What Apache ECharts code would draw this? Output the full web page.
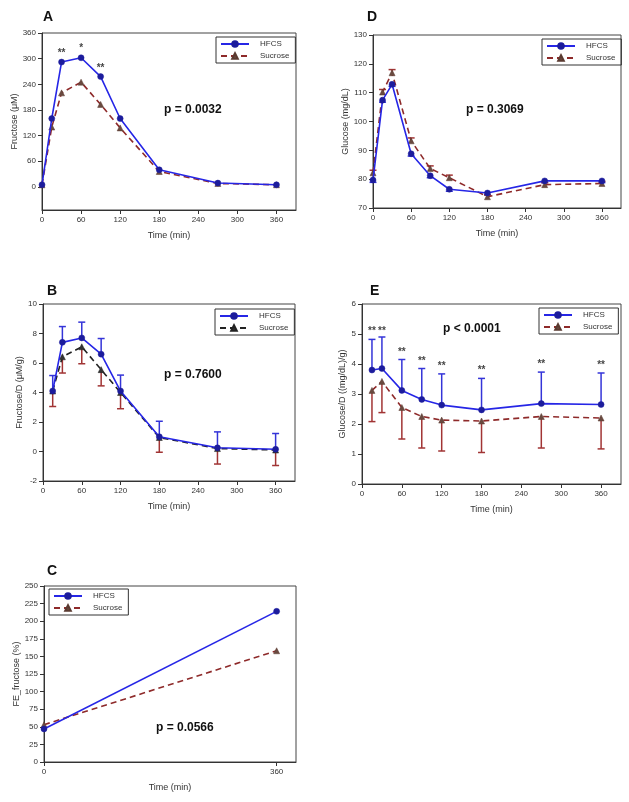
<!DOCTYPE html>
<html lang="en">

<head>
  <meta charset="UTF-8">
  <title>HFCS vs Sucrose</title>
  <style>
    html, body {
      margin: 0;
      width: 100%;
      height: 100%;
      background: #fff;
    }

    .chart {
      width: 629px;
      height: 802px;
    }
  </style>
</head>

<body>
  <div id="chart" class="chart"></div>

  <script src="https://cdn.jsdelivr.net/npm/echarts@6/dist/echarts.min.js"></script>
  <script>
    // time points (min)
    var times = [0, 15, 30, 60, 90, 120, 180, 270, 360];
    var timesPerDose = [15, 30, 60, 90, 120, 180, 270, 360];
    var timesFe = [0, 360];
    var timeTicks = [0, 60, 120, 180, 240, 300, 360];

    // A - fructose (uM)
    var fructoseHfcs = [5, 160, 292, 302, 258, 160, 40, 9, 5];
    var fructoseSucrose = [5, 140, 220, 245, 193, 138, 36, 8, 5];
    var fructoseStarTimes = [30, 60, 90];
    var fructoseStarLevels = [313, 324, 278];
    var fructoseStarText = ['**', '*', '**'];

    // B - fructose / dose (uM/g)
    var fructoseDHfcs = [4.1, 7.4, 7.7, 6.6, 4.1, 1.0, 0.25, 0.15];
    var fructoseDHfcsErr = [1.05, 1.07, 1.07, 1.06, 1.08, 1.05, 1.08, 1.07];
    var fructoseDSucrose = [4.1, 6.42, 7.1, 5.55, 4.0, 0.95, 0.2, 0.1];
    var fructoseDSucroseErr = [1.05, 1.1, 1.15, 1.1, 1.1, 1.0, 1.05, 1.05];

    // C - FE_fructose (%)
    var feHfcs = [47, 214];
    var feSucrose = [53, 158];

    // D - glucose (mg/dL)
    var glucoseHfcs = [79.7, 107.4, 112.9, 88.8, 81.2, 76.5, 75.2, 79.4, 79.4];
    var glucoseHfcsErr = [0.8, 0.7, 0.7, 0.8, 0.7, 0.7, 0.6, 0.6, 0.6];
    var glucoseSucrose = [82.2, 110.2, 116.9, 93.3, 83.7, 80.5, 73.9, 78.1, 78.5];
    var glucoseSucroseErr = [0.9, 0.9, 1.1, 1.0, 0.9, 0.9, 0.6, 0.7, 0.7];

    // E - glucose / dose ((mg/dL)/g)
    var glucoseDHfcs = [3.8, 3.85, 3.12, 2.82, 2.63, 2.47, 2.68, 2.65];
    var glucoseDHfcsErr = [1.02, 1.05, 1.03, 1.03, 1.04, 1.05, 1.05, 1.05];
    var glucoseDSucrose = [3.12, 3.42, 2.55, 2.25, 2.13, 2.1, 2.25, 2.2];
    var glucoseDSucroseErr = [1.04, 1.04, 1.05, 1.05, 1.03, 1.05, 1.05, 1.03];
    var glucoseStarLevels = [5.08, 5.08, 4.38, 4.08, 3.91, 3.8, 4.0, 3.97];

    var FONT = 'Liberation Sans';
    var BLUE = '#2626e6';
    var NAVY = '#1c1c9c';
    var RED = '#8e2a2a';
    var ERR_BLUE = '#3434d8';
    var ERR_RED = '#a13434';

    var myChart = echarts.init(document.getElementById('chart'));

    function pairs(xs, ys) {
      return xs.map(function (x, i) { return [x, ys[i]]; });
    }

    // [t, mean, end of bar]
    function errData(xs, ys, errs, sign) {
      return xs.map(function (x, i) { return [x, ys[i], ys[i] + sign * errs[i]]; });
    }

    function starData(xs, ys, txt) {
      return xs.map(function (x, i) { return [x, ys[i], typeof txt === 'string' ? txt : txt[i]]; });
    }

    function errorSeries(idx, data, color) {
      return {
        name: 'err',
        type: 'custom',
        xAxisIndex: idx,
        yAxisIndex: idx,
        data: data,
        z: 1,
        silent: true,
        renderItem: function (params, api) {
          var a = api.coord([api.value(0), api.value(1)]);
          var b = api.coord([api.value(0), api.value(2)]);
          var style = { stroke: color, lineWidth: 1.5 };
          return {
            type: 'group',
            children: [
              { type: 'line', shape: { x1: a[0], y1: a[1], x2: b[0], y2: b[1] }, style: style },
              { type: 'line', shape: { x1: b[0] - 3.5, y1: b[1], x2: b[0] + 3.5, y2: b[1] }, style: style }
            ]
          };
        }
      };
    }

    function starSeries(idx, data) {
      return {
        name: 'stars',
        type: 'scatter',
        xAxisIndex: idx,
        yAxisIndex: idx,
        symbolSize: 0,
        silent: true,
        data: data,
        label: {
          show: true,
          position: 'inside',
          formatter: function (p) { return p.data[2]; },
          fontFamily: FONT,
          fontWeight: 'bold',
          fontSize: 10,
          color: '#111'
        }
      };
    }

    function hfcsLine(idx, data) {
      return {
        name: 'HFCS',
        type: 'line',
        xAxisIndex: idx,
        yAxisIndex: idx,
        data: data,
        z: 3,
        symbol: 'circle',
        symbolSize: 6,
        lineStyle: { color: BLUE, width: 1.6 },
        itemStyle: { color: NAVY, borderColor: NAVY, borderWidth: 0.5 }
      };
    }

    function sucroseLine(idx, data, color) {
      return {
        name: 'Sucrose',
        type: 'line',
        xAxisIndex: idx,
        yAxisIndex: idx,
        data: data,
        z: 2,
        symbol: 'triangle',
        symbolSize: 6,
        lineStyle: { color: color || RED, width: 1.6, type: [6, 4] },
        itemStyle: { color: color ? '#333' : '#6a4a40', borderColor: color ? '#222' : '#5a3a30', borderWidth: 0.5 }
      };
    }

    var grids = [
      { left: 42, top: 33, width: 254, height: 177 },   // A
      { left: 43, top: 304, width: 252, height: 177 },  // B
      { left: 44, top: 586, width: 252, height: 176 },  // C
      { left: 373, top: 35, width: 248, height: 173 },  // D
      { left: 362, top: 304, width: 259, height: 180 }  // E
    ].map(function (g) {
      g.show = true;
      g.borderColor = '#444';
      g.borderWidth = 1;
      g.containLabel = false;
      return g;
    });

    function xAxis(idx, ticks) {
      return {
        type: 'value',
        gridIndex: idx,
        min: 0,
        max: 390,
        name: 'Time (min)',
        nameLocation: 'middle',
        nameGap: 21,
        nameTextStyle: { fontFamily: FONT, fontSize: 9, color: '#333' },
        axisLine: { onZero: false, lineStyle: { color: '#333' } },
        axisTick: { customValues: ticks, length: 4, lineStyle: { color: '#333' } },
        axisLabel: { customValues: ticks, fontFamily: FONT, fontSize: 8, color: '#333', margin: 6 },
        splitLine: { show: false }
      };
    }

    function yAxis(idx, name, min, max, ticks, gap) {
      return {
        type: 'value',
        gridIndex: idx,
        min: min,
        max: max,
        name: name,
        nameLocation: 'middle',
        nameGap: gap,
        nameTextStyle: { fontFamily: FONT, fontSize: 9, color: '#333' },
        axisLine: { onZero: false, lineStyle: { color: '#333' } },
        axisTick: { customValues: ticks, length: 4, lineStyle: { color: '#333' } },
        axisLabel: { customValues: ticks, fontFamily: FONT, fontSize: 8, color: '#333', margin: 6 },
        splitLine: { show: false }
      };
    }

    function legend(left, top, sucroseColor) {
      var sucrose = { name: 'Sucrose' };
      if (sucroseColor) {
        sucrose.lineStyle = { color: sucroseColor };
        sucrose.itemStyle = { color: '#333', borderColor: '#222' };
      }
      return {
        data: ['HFCS', sucrose],
        orient: 'vertical',
        left: left,
        top: top,
        itemWidth: 28,
        itemHeight: 7,
        itemGap: 4,
        padding: [3, 6, 3, 4],
        borderColor: '#333',
        borderWidth: 1,
        selectedMode: false,
        textStyle: { fontFamily: FONT, fontSize: 8, color: '#333', padding: [0, 0, 0, 6] }
      };
    }

    function letter(text, left, top) {
      return { text: text, left: left, top: top, padding: 0,
        textStyle: { fontFamily: FONT, fontSize: 14, fontWeight: 'bold', color: '#111' } };
    }

    function pText(text, left, top) {
      return { type: 'text', left: left, top: top,
        style: { text: text, font: 'bold 12px "Liberation Sans"', fill: '#111' } };
    }

    var option = {
      animation: false,
      title: [
        letter('A', 43, 10),
        letter('B', 47, 284),
        letter('C', 47, 564),
        letter('D', 367, 10),
        letter('E', 370, 284)
      ],
      grid: grids,
      xAxis: [
        xAxis(0, timeTicks),
        xAxis(1, timeTicks),
        xAxis(2, [0, 360]),
        xAxis(3, timeTicks),
        xAxis(4, timeTicks)
      ],
      yAxis: [
        yAxis(0, 'Fructose (\u03bcM)', -54, 360, [0, 60, 120, 180, 240, 300, 360], 23),
        yAxis(1, 'Fructose/D (\u03bcM/g)', -2, 10, [-2, 0, 2, 4, 6, 8, 10], 19),
        yAxis(2, 'FE_fructose (%)', 0, 250, [0, 25, 50, 75, 100, 125, 150, 175, 200, 225, 250], 23),
        yAxis(3, 'Glucose (mg/dL)', 70, 130, [70, 80, 90, 100, 110, 120, 130], 22),
        yAxis(4, 'Glucose/D ((mg/dL)/g)', 0, 6, [0, 1, 2, 3, 4, 5, 6], 15)
      ],
      legend: [
        legend(216, 37),
        legend(215, 309, '#222'),
        legend(49, 589),
        legend(542, 39),
        legend(539, 308)
      ],
      graphic: [
        pText('p = 0.0032', 164, 104),
        pText('p = 0.7600', 164, 369),
        pText('p = 0.0566', 156, 722),
        pText('p = 0.3069', 466, 104),
        pText('p < 0.0001', 443, 323)
      ],
      series: [
        // A
        sucroseLine(0, pairs(times, fructoseSucrose)),
        hfcsLine(0, pairs(times, fructoseHfcs)),
        starSeries(0, starData(fructoseStarTimes, fructoseStarLevels, fructoseStarText)),
        // B
        errorSeries(1, errData(timesPerDose, fructoseDHfcs, fructoseDHfcsErr, 1), ERR_BLUE),
        errorSeries(1, errData(timesPerDose, fructoseDSucrose, fructoseDSucroseErr, -1), ERR_RED),
        hfcsLine(1, pairs(timesPerDose, fructoseDHfcs)),
        sucroseLine(1, pairs(timesPerDose, fructoseDSucrose), '#222'),
        // C
        hfcsLine(2, pairs(timesFe, feHfcs)),
        sucroseLine(2, pairs(timesFe, feSucrose)),
        // D
        errorSeries(3, errData(times, glucoseHfcs, glucoseHfcsErr, -1), ERR_BLUE),
        errorSeries(3, errData(times, glucoseSucrose, glucoseSucroseErr, 1), ERR_RED),
        sucroseLine(3, pairs(times, glucoseSucrose)),
        hfcsLine(3, pairs(times, glucoseHfcs)),
        // E
        errorSeries(4, errData(timesPerDose, glucoseDHfcs, glucoseDHfcsErr, 1), ERR_BLUE),
        errorSeries(4, errData(timesPerDose, glucoseDSucrose, glucoseDSucroseErr, -1), ERR_RED),
        sucroseLine(4, pairs(timesPerDose, glucoseDSucrose)),
        hfcsLine(4, pairs(timesPerDose, glucoseDHfcs)),
        starSeries(4, starData(timesPerDose, glucoseStarLevels, '**'))
      ]
    };

    myChart.setOption(option);
  </script>
</body>

</html>
